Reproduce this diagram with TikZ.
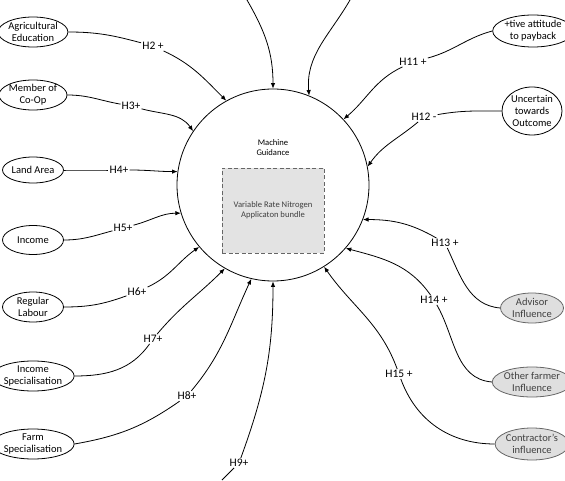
\documentclass[tikz,border=0pt]{standalone}
\usepackage{fontspec}
\setmainfont{Carlito}
\usetikzlibrary{shapes.geometric,arrows.meta}
\begin{document}
\begin{tikzpicture}[x=1pt,y=1pt,
  lbl/.style={font=\fontsize{11.5}{13}\selectfont, inner sep=1pt},
  fac/.style={ellipse, draw, line width=0.8pt, minimum width=61pt, minimum height=30pt, inner sep=0pt, align=center, font=\fontsize{10.5}{12}\selectfont},
  gfac/.style={fac, fill=gray!25, draw=gray!80!black, text=black!75},
  conn/.style={line width=0.8pt},
  arr/.style={conn, -{Latex[length=5.5pt,width=4.5pt]}}
]
\useasboundingbox (0,0) rectangle (565,480);
% central circle
\node[circle, draw, line width=0.8pt, minimum size=192pt, inner sep=0pt] (mg) at (273,295) {};
\node[align=center, font=\fontsize{8.6}{10}\selectfont] (mgt) at (273,332) {Machine\\Guidance};
\node[draw=gray!80!black, dashed, dash pattern=on 4pt off 2.5pt, line width=0.9pt, fill=gray!22, minimum width=102pt, minimum height=85pt, align=center, text=black!75, font=\fontsize{8.6}{10}\selectfont] (vr) at (273,269.5) {Variable Rate Nitrogen\\Applicaton bundle};
% left factors
\node[fac] (ae) at (33,448) {Agricultural\\Education};
\node[fac] (mc) at (33,385) {Member of\\Co-Op};
\node[fac, minimum height=26pt] (la) at (33,310) {Land Area};
\node[fac, minimum height=29pt] (inc) at (33,240) {Income};
\node[fac] (rl) at (33,173) {Regular\\Labour};
\node[fac] (is) at (33,104) {Income\\Specialisation};
\node[fac] (fs) at (33,36) {Farm\\Specialisation};
% right factors
\node[fac, minimum width=62pt, minimum height=32pt] (pa) at (533,449) {+tive attitude\\to payback};
\node[fac, minimum width=60pt, minimum height=48pt] (un) at (532,369) {Uncertain\\towards\\Outcome};
\node[gfac, minimum width=63pt] (ad) at (532,172) {Advisor\\Influence};
\node[gfac, minimum width=63pt] (of) at (532,98) {Other farmer\\Influence};
\node[gfac, minimum width=63pt, minimum height=32pt] (co) at (532,36) {Contractor's\\influence};
% labels
\node[lbl] (h2) at (153,434) {H2 +};
\node[lbl] (h3) at (131,374) {H3+};
\node[lbl] (h4) at (119,310) {H4+};
\node[lbl] (h5) at (123,252) {H5+};
\node[lbl] (h6) at (137,188) {H6+};
\node[lbl] (h7) at (153,141) {H7+};
\node[lbl] (h8) at (187,84) {H8+};
\node[lbl] (h9) at (239,17) {H9+};
\node[lbl] (h11) at (413,418) {H11 +};
\node[lbl] (h12) at (424,363) {H12 -};
\node[lbl] (h13) at (445,237) {H13 +};
\node[lbl] (h14) at (434,180) {H14 +};
\node[lbl] (h15) at (399,106) {H15 +};
% free ends
\coordinate (t1) at (247,480);
\coordinate (t10) at (350,480);
\coordinate (b9) at (222,0);
% connectors
\draw[conn] (ae.east) to[out=0,in=165] (h2);
\draw[arr] (h2) to[out=-25,in=135] (mg.119);
\draw[conn] (mc.east) to[out=0,in=170] (h3);
\draw[arr] (h3) to[out=-15,in=125] (mg.146);
\draw[conn] (la.east) to[out=0,in=180] (h4);
\draw[arr] (h4) to[out=0,in=180] (mg.172);
\draw[conn] (inc.east) to[out=0,in=195] (h5);
\draw[arr] (h5) to[out=15,in=180] (mg.197);
\draw[conn] (rl.east) to[out=0,in=200] (h6);
\draw[arr] (h6) to[out=25,in=215] (mg.220);
\draw[conn] (is.east) to[out=0,in=235] (h7);
\draw[arr] (h7) to[out=50,in=225] (mg.240);
\draw[conn] (fs.east) to[out=10,in=215] (h8);
\draw[arr] (h8) to[out=50,in=245] (mg.257);
\draw[conn] (b9) to[out=45,in=225] (h9);
\draw[arr] (h9) to[out=70,in=270] (mg.270);
\draw[arr] (t1) to[out=-60,in=90] (mg.90);
\draw[arr] (t10) to[out=-120,in=95] (mg.68);
\draw[conn] (pa.west) to[out=195,in=15] (h11);
\draw[arr] (h11) to[out=205,in=40] (mg.43);
\draw[conn] (un.west) to[out=180,in=10] (h12);
\draw[arr] (h12) to[out=220,in=55] (mg.11);
\draw[conn] (ad.west) to[out=175,in=-65] (h13);
\draw[arr] (h13) to[out=150,in=0] (mg.-21);
\draw[conn] (of.west) to[out=175,in=-60] (h14);
\draw[arr] (h14) to[out=125,in=-15] (mg.-41);
\draw[conn] (co.west) to[out=180,in=-70] (h15);
\draw[arr] (h15) to[out=110,in=-55] (mg.-58);
\end{tikzpicture}
\end{document}
